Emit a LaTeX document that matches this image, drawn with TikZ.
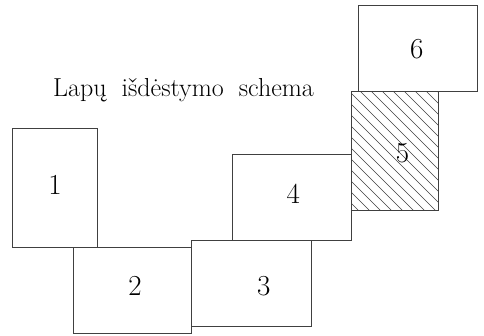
\documentclass[tikz,border=0pt]{standalone}
\usepackage{fontspec}
\begin{document}
\begin{tikzpicture}[x=1pt,y=-1pt,
  sheet/.style={draw=black!75, line width=0.9pt, inner sep=0pt, outer sep=0pt, rectangle},
  num/.style={font=\fontsize{29}{32}\selectfont, inner sep=0pt, anchor=base},
  hatchline/.style={draw=black!75, line width=0.6pt}]
\useasboundingbox (0,0) rectangle (484,335);
% hatch of sheet 5
\begin{scope}
  \clip (351,91) rectangle (438,210);
  \foreach \k in {-12,...,8} {
    \draw[hatchline] (269+11*\k+80,80) -- (269+11*\k+220,220);
  }
\end{scope}
% sheets
\node[sheet, minimum width=85pt, minimum height=119pt] (s1) at (54.5,187.5) {};
\node[sheet, minimum width=118pt, minimum height=86pt] (s2) at (132,290) {};
\node[sheet, minimum width=120pt, minimum height=86pt] (s3) at (251,283) {};
\node[sheet, minimum width=119pt, minimum height=86pt] (s4) at (291.5,197) {};
\node[sheet, minimum width=87pt, minimum height=119pt] (s5) at (394.5,150.5) {};
\node[sheet, minimum width=119pt, minimum height=86pt] (s6) at (417.5,48) {};
% numbers
\node[num] (n1) at (55,194.3) {1};
\node[num] (n2) at (135,295) {2};
\node[num] (n3) at (263.7,295) {3};
\node[num] (n4) at (293.3,203) {4};
\node[num] (n5) at (402.5,162) {5};
\node[num] (n6) at (416.7,58.3) {6};
% title
\node[font=\fontsize{26}{29}\selectfont, anchor=base, inner sep=0pt] (title) at (183.5,96)
  {Lapų\hspace{15pt}išdėstymo\hspace{15pt}schema};
\end{tikzpicture}
\end{document}
